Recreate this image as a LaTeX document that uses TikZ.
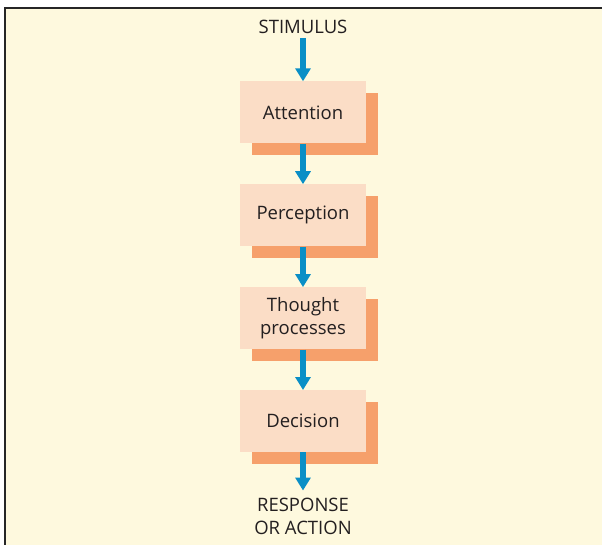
\documentclass[tikz,border=0pt]{standalone}
\usepackage{fontspec}
\setmainfont{Open Sans}
\usepackage{xcolor}
\usepackage{tikz}
\usetikzlibrary{positioning,calc,shadows,arrows.meta}
\definecolor{paper}{HTML}{FEF9DE}
\definecolor{peach}{HTML}{FBDDC6}
\definecolor{deeppeach}{HTML}{F6A06B}
\definecolor{flowblue}{HTML}{0A8FC6}
\definecolor{ink}{HTML}{231F20}
\tikzstyle{line} = [draw=flowblue, line width=6pt, -{Triangle[width=15pt,length=13pt]}, shorten <=0pt]
\tikzstyle{stage} = [rectangle, fill=peach, text=ink, align=center, minimum width=126pt, minimum height=62pt, inner sep=0pt,
  drop shadow={shadow xshift=12pt, shadow yshift=-12pt, fill=deeppeach, opacity=1}]
\tikzstyle{caption} = [text=ink, align=center, inner sep=0pt]

\begin{document}
\begin{tikzpicture}[x=1pt, y=-1pt, node distance=0pt, font=\fontsize{18.5}{23}\selectfont]

\useasboundingbox (0,0) rectangle (602,545);
\fill[paper] (5,8) rectangle (602,545);
\draw[line width=1.5pt, black!85] (5,545) -- (5,8) -- (602,8);

\node [caption] (stim) at (303,27) {STIMULUS};

\node [stage] (att) at (303,112.5) {Attention};
\node [stage, below=40.5pt of att] (perc) {Perception};
\node [stage, below=40.5pt of perc] (thought) {Thought\\processes};
\node [stage, below=40.5pt of thought] (dec) {Decision};

\node [caption] (resp) at (303,516) {RESPONSE\\OR ACTION};

\path [line] ($(stim.south)+(0,4)$) -- (att.north);
\path [line] (att) -- (perc.north);
\path [line] (perc) -- (thought.north);
\path [line] (thought) -- (dec.north);
\path [line] (dec) -- ($(resp.north)+(0,-7)$);

\end{tikzpicture}
\end{document}
